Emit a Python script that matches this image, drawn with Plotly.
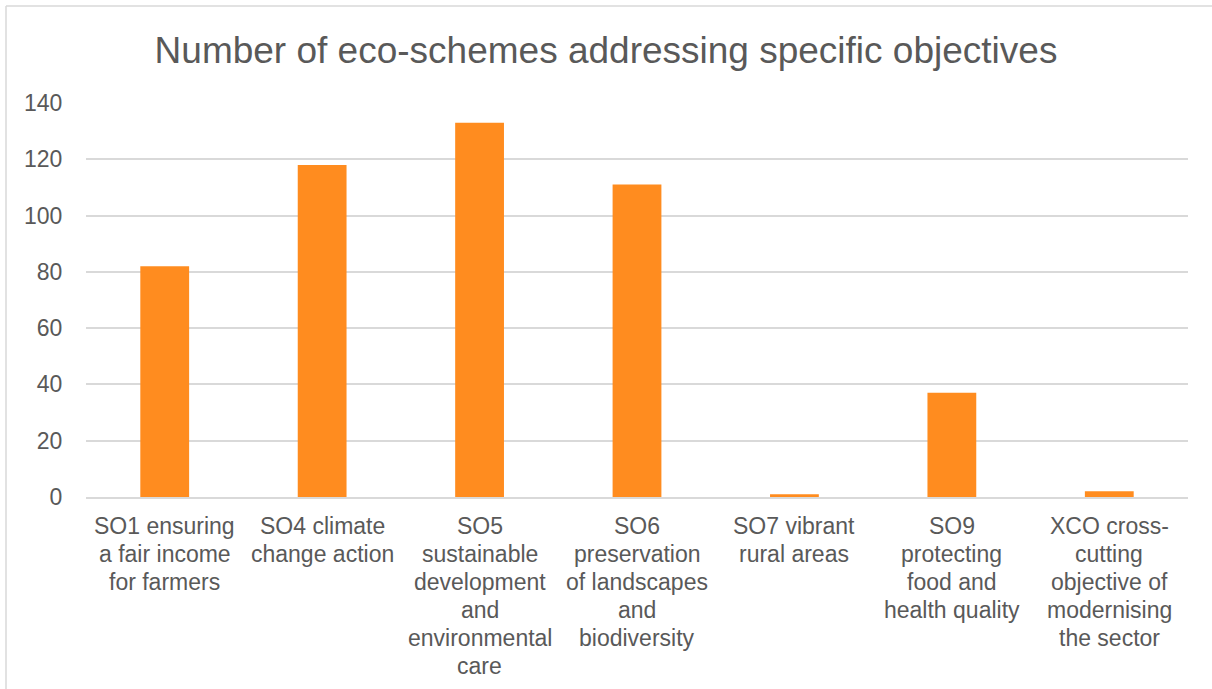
import plotly.graph_objects as go

categories = [
    "SO1 ensuring<br>a fair income<br>for farmers",
    "SO4 climate<br>change action",
    "SO5<br>sustainable<br>development<br>and<br>environmental<br>care",
    "SO6<br>preservation<br>of landscapes<br>and<br>biodiversity",
    "SO7 vibrant<br>rural areas",
    "SO9<br>protecting<br>food and<br>health quality",
    "XCO cross-<br>cutting<br>objective of<br>modernising<br>the sector",
]
values = [82, 118, 133, 111, 1, 37, 2]
y_ticks = [0, 20, 40, 60, 80, 100, 120, 140]

W, H = 1212, 689
L, R, T, B = 86, 24, 103, 192
pw, ph = W - L - R, H - T - B
TEXT = "#595959"
FONT = "Liberation Sans, Arial, sans-serif"

fig = go.Figure(go.Bar(x=categories, y=values, marker=dict(color="#FF8C1F", line=dict(width=0))))

# category labels, one annotation per line to match the tighter line spacing
annotations = []
for cat in categories:
    for i, line in enumerate(cat.split("<br>")):
        annotations.append(dict(
            x=cat, y=0, xref="x", yref="y", text=line, showarrow=False,
            xanchor="center", yanchor="middle", yshift=-(29 + 28 * i),
            font=dict(family=FONT, size=23, color=TEXT),
        ))

fig.update_layout(
    width=W, height=H,
    margin=dict(l=L, r=R, t=T, b=B),
    paper_bgcolor="white", plot_bgcolor="white",
    font=dict(family=FONT, color=TEXT, size=23),
    title=dict(text="Number of eco-schemes addressing specific objectives",
               x=0.5, xanchor="center", y=1 - 50 / H, yanchor="middle",
               font=dict(size=37, color=TEXT)),
    bargap=0.69,
    showlegend=False,
    annotations=annotations,
    shapes=[
        dict(type="line", xref="paper", yref="paper",
             x0=(6 - L) / pw, x1=(W + 5 - L) / pw, y0=(H - B - 6) / ph, y1=(H - B - 6) / ph,
             line=dict(color="#D9D9D9", width=1.5)),
        dict(type="line", xref="paper", yref="paper",
             x0=(6 - L) / pw, x1=(6 - L) / pw, y0=(H - B - 6) / ph, y1=-(B + 5) / ph,
             line=dict(color="#D9D9D9", width=1.5)),
    ],
)
fig.update_yaxes(range=[0, 140], tickvals=y_ticks, showgrid=True, gridcolor="#D9D9D9", gridwidth=1.5,
                 zeroline=False, showline=False, ticks="outside", ticklen=18, tickcolor="rgba(0,0,0,0)",
                 tickfont=dict(size=23))
fig.update_xaxes(showline=True, linecolor="#D9D9D9", linewidth=1.5, showticklabels=False, ticks="")

fig.write_html("out.html")
